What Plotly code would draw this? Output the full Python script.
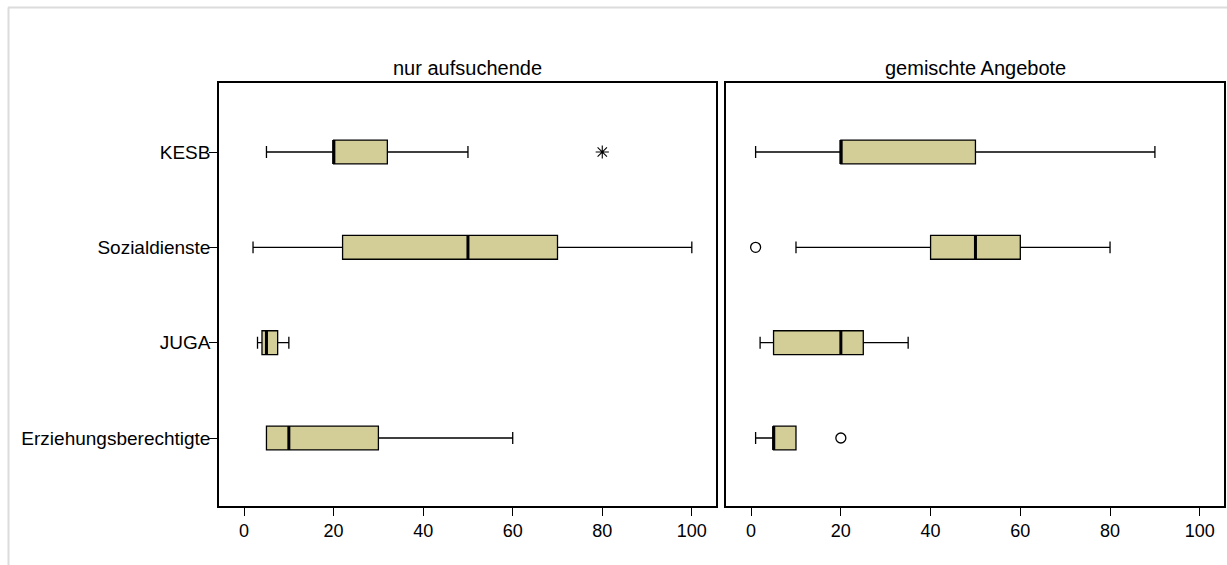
import plotly.graph_objects as go

categories = ["KESB", "Sozialdienste", "JUGA", "Erziehungsberechtigte"]
positions = [3, 2, 1, 0]
panel_titles = ["nur aufsuchende", "gemischte Angebote"]

# nur aufsuchende
a_low = [5, 2, 3, 5]
a_q1 = [20, 22, 4, 5]
a_med = [20, 50, 5, 10]
a_q3 = [32, 70, 7.5, 30]
a_high = [50, 100, 10, 60]
a_extreme_x = [80]
a_extreme_cat = ["KESB"]

# gemischte Angebote
g_low = [1, 10, 2, 1]
g_q1 = [20, 40, 5, 5]
g_med = [20, 50, 20, 5]
g_q3 = [50, 60, 25, 10]
g_high = [90, 80, 35, 10]
g_outlier_x = [1, 20]
g_outlier_cat = ["Sozialdienste", "Erziehungsberechtigte"]

x_ticks = [0, 20, 40, 60, 80, 100]

FILL = "#D3CE98"
BOX_W = 0.25
FONT = "Liberation Sans, Arial, sans-serif"
pos_of = dict(zip(categories, positions))

fig = go.Figure()

def add_panel(low, q1, med, q3, high, xa, ya):
    fig.add_trace(go.Box(
        y=positions, q1=q1, median=med, q3=q3,
        lowerfence=low, upperfence=high,
        orientation="h", boxpoints=False, width=BOX_W, whiskerwidth=0.5,
        fillcolor=FILL, line=dict(color="black", width=1.3),
        xaxis=xa, yaxis=ya, showlegend=False, hoverinfo="skip"))
    mx, my = [], []
    for p, m in zip(positions, med):
        mx += [m, m, None]
        my += [p - BOX_W / 2, p + BOX_W / 2, None]
    fig.add_trace(go.Scatter(x=mx, y=my, mode="lines",
                             line=dict(color="black", width=3),
                             xaxis=xa, yaxis=ya, showlegend=False, hoverinfo="skip"))

add_panel(a_low, a_q1, a_med, a_q3, a_high, "x", "y")
add_panel(g_low, g_q1, g_med, g_q3, g_high, "x2", "y2")

fig.add_trace(go.Scatter(x=a_extreme_x, y=[pos_of[c] for c in a_extreme_cat], mode="markers",
                         marker=dict(symbol="asterisk-open", size=11, color="black",
                                     line=dict(color="black", width=1.1)),
                         xaxis="x", yaxis="y", showlegend=False, hoverinfo="skip"))
fig.add_trace(go.Scatter(x=g_outlier_x, y=[pos_of[c] for c in g_outlier_cat], mode="markers",
                         marker=dict(symbol="circle-open", size=10, color="black",
                                     line=dict(color="black", width=1.3)),
                         xaxis="x2", yaxis="y2", showlegend=False, hoverinfo="skip"))

W, H = 1227, 565
xrange = [-5.6, 105.4]
yrange = [-0.713, 3.729]
ydom = [1 - 506 / H, 1 - 82.5 / H]

common_x = dict(range=xrange, tickvals=x_ticks, ticks="outside", ticklen=8,
                tickwidth=1.3, tickcolor="black", showline=True, mirror=True,
                linecolor="black", linewidth=1.5, showgrid=False, zeroline=False,
                tickfont=dict(family=FONT, size=18, color="black"))
fig.update_layout(
    width=W, height=H, autosize=False,
    margin=dict(l=0, r=0, t=0, b=0),
    paper_bgcolor="white", plot_bgcolor="white",
    font=dict(family=FONT, color="black"),
    xaxis=dict(domain=[219 / W, 716 / W], anchor="y", **common_x),
    xaxis2=dict(domain=[726 / W, 1224 / W], anchor="y2", **common_x),
    yaxis=dict(domain=ydom, range=yrange, tickvals=positions, ticktext=categories,
               ticks="outside", ticklen=8, tickwidth=1.3, tickcolor="black",
               ticklabelstandoff=-5,
               showline=True, mirror=True, linecolor="black", linewidth=1.5,
               showgrid=False, zeroline=False, anchor="x",
               tickfont=dict(family=FONT, size=19, color="black")),
    yaxis2=dict(domain=ydom, range=yrange, showticklabels=False, ticks="",
                showline=True, mirror=True, linecolor="black", linewidth=1.5,
                showgrid=False, zeroline=False, anchor="x2"),
    annotations=[
        dict(text=panel_titles[0], x=(219 + 716) / 2 / W, y=1 - 68 / H, xref="paper", yref="paper",
             xanchor="center", yanchor="middle",
             showarrow=False, font=dict(family=FONT, size=20, color="black")),
        dict(text=panel_titles[1], x=(726 + 1224) / 2 / W, y=1 - 68 / H, xref="paper", yref="paper",
             xanchor="center", yanchor="middle",
             showarrow=False, font=dict(family=FONT, size=20, color="black")),
    ],
    shapes=[
        dict(type="line", xref="paper", yref="paper", x0=8 / W, x1=1.0, y0=1 - 7.5 / H, y1=1 - 7.5 / H,
             line=dict(color="#dcdcdc", width=2)),
        dict(type="line", xref="paper", yref="paper", x0=8.5 / W, x1=8.5 / W, y0=0, y1=1 - 7.5 / H,
             line=dict(color="#dcdcdc", width=2)),
    ],
)

fig.write_html("out.html")
